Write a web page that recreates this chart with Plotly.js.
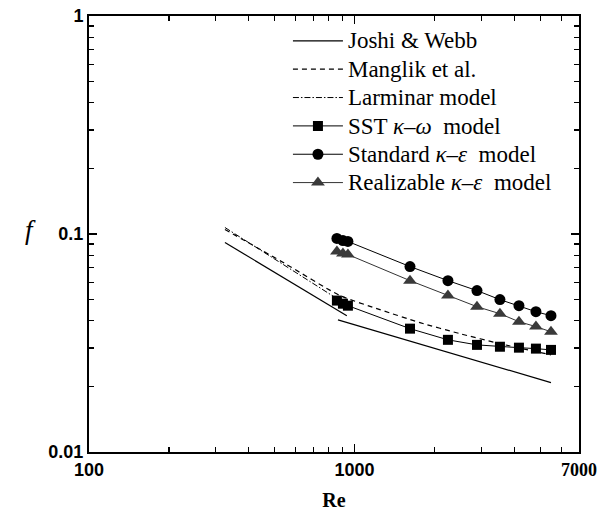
<!DOCTYPE html>
<html>
<head>
<meta charset="utf-8">
<script src="https://cdn.plot.ly/plotly-3.0.1.min.js"></script>
<style>
  html, body { margin: 0; padding: 0; background: #fff; }
  #chart { width: 611px; height: 518px; }
</style>
</head>
<body>
<div id="chart"></div>
<script>
// Friction factor f against Reynolds number (log-log)

// Joshi & Webb correlation: laminar branch, gap, turbulent branch
const jwRe = [325, 935, null, 866, 5490];
const jwF  = [0.0914, 0.0422, null, 0.0404, 0.0208];

// Manglik et al. correlation
const mgRe = [325, 547, 881, 1246, 1763, 2493, 3527, 5490];
const mgF  = [0.1049, 0.0732, 0.0522, 0.0450, 0.0392, 0.0349, 0.0314, 0.0279];

// Laminar model
const lamRe = [325, 920];
const lamF  = [0.1071, 0.0479];

// Simulated Reynolds numbers
const simRe = [858, 904, 944, 1617, 2247, 2890, 3527, 4159, 4819, 5490];

// SST k-omega
const sstF = [0.0495, 0.0479, 0.0469, 0.0368, 0.0327, 0.0310, 0.0304, 0.0301, 0.0298, 0.0294];
// Standard k-epsilon
const skeF = [0.0954, 0.0933, 0.0924, 0.0709, 0.0611, 0.0550, 0.0500, 0.0469, 0.0440, 0.0422];
// Realizable k-epsilon
const rkeF = [0.0831, 0.0813, 0.0805, 0.0611, 0.0522, 0.0464, 0.0431, 0.0396, 0.0376, 0.0356];

// Legend labels
const names = [
  'Joshi &amp; Webb',
  'Manglik et al.',
  'Larminar model',
  'SST <i>κ</i>–<i>ω</i>  model',
  'Standard <i>κ</i>–<i>ε</i>  model',
  'Realizable <i>κ</i>–<i>ε</i>  model'
];

// Axis ticks
const xTickVals = [100, 1000, 7000];
const xTickText = ['100', '1000', '<span style="font-family:Liberation Serif">7000</span>'];
const xMinorVals = [200, 300, 400, 500, 600, 700, 800, 900, 2000, 3000, 4000, 5000, 6000];
const yTickVals = [0.01, 0.1, 1];
const yTickText = ['0.01', '0.1', '1'];
const yMinorVals = [0.02, 0.03, 0.04, 0.05, 0.06, 0.07, 0.08, 0.09,
                    0.2, 0.3, 0.4, 0.5, 0.6, 0.7, 0.8, 0.9];

const serif = 'Liberation Serif, Times New Roman, serif';
const sans = 'Liberation Sans, Arial, sans-serif';

// Legend text is set larger than the row pitch would give
const big = s => '<span style="font-size:23px">' + s + '</span>';

const traces = [
  {
    x: jwRe, y: jwF, name: big(names[0]), mode: 'lines',
    connectgaps: false,
    line: { color: '#000', width: 1.2 }
  },
  {
    x: mgRe, y: mgF, name: big(names[1]), mode: 'lines',
    line: { color: '#000', width: 1.2, dash: '5px,4px', shape: 'spline', smoothing: 0.6 }
  },
  {
    x: lamRe, y: lamF, name: big(names[2]), mode: 'lines',
    line: { color: '#000', width: 1, dash: '6px,2px,1.5px,2px' }
  },
  {
    x: simRe, y: sstF, name: big(names[3]), mode: 'lines+markers',
    line: { color: '#000', width: 1 },
    marker: { symbol: 'square', size: 10, color: '#000' }
  },
  {
    x: simRe, y: skeF, name: big(names[4]), mode: 'lines+markers',
    line: { color: '#000', width: 1 },
    marker: { symbol: 'circle', size: 11, color: '#000' }
  },
  {
    x: simRe, y: rkeF, name: big(names[5]), mode: 'lines+markers',
    line: { color: '#333', width: 1 },
    marker: { symbol: 'triangle-up', size: 12, color: '#3a3a3a' }
  }
];

const axisCommon = {
  type: 'log',
  showgrid: false,
  zeroline: false,
  showline: true,
  linecolor: '#000',
  linewidth: 2,
  mirror: 'ticks',
  ticks: 'inside',
  ticklen: 8,
  tickwidth: 1.5,
  tickcolor: '#000',
  tickmode: 'array',
  tickfont: { family: sans, size: 18, color: '#000', weight: 'bold' }
};

const layout = {
  width: 611,
  height: 518,
  margin: { l: 89, r: 32, t: 16, b: 66 },
  paper_bgcolor: '#fff',
  plot_bgcolor: '#fff',
  showlegend: true,
  xaxis: Object.assign({}, axisCommon, {
    range: [2, Math.log10(7000)],
    tickvals: xTickVals,
    ticktext: xTickText,
    minor: { tickmode: 'array', tickvals: xMinorVals, ticks: 'inside', ticklen: 5, tickwidth: 1.2, tickcolor: '#000' },
    title: { text: 'Re', font: { family: serif, size: 20, color: '#000', weight: 'bold' }, standoff: 14 }
  }),
  yaxis: Object.assign({}, axisCommon, {
    range: [-2, 0],
    tickvals: yTickVals,
    ticktext: yTickText,
    minor: { tickmode: 'array', tickvals: yMinorVals, ticks: 'inside', ticklen: 5, tickwidth: 1.2, tickcolor: '#000' }
  }),
  legend: {
    x: 0.406, y: 0.987, xanchor: 'left', yanchor: 'top',
    bgcolor: 'rgba(0,0,0,0)',
    font: { family: serif, size: 19.5, color: '#000' },
    itemwidth: 50,
    tracegroupgap: 0
  },
  annotations: [
    {
      xref: 'paper', yref: 'paper', x: -0.135, y: 0.51,
      text: '<i>f</i>', showarrow: false,
      font: { family: serif, size: 27, color: '#000' }
    }
  ]
};

Plotly.newPlot('chart', traces, layout, { displayModeBar: false, staticPlot: true });
</script>
</body>
</html>
